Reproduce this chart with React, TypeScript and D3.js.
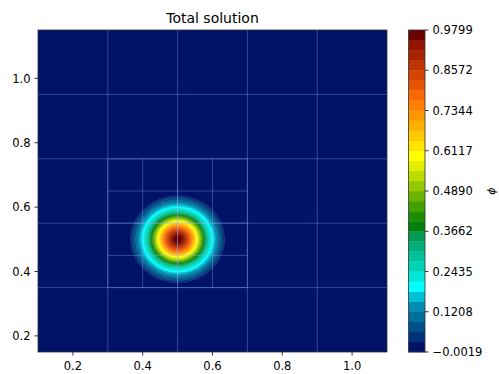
import React from "react";
import * as d3 from "d3";

// Contour band colours, lowest level first
const bandColors = [
  "#001366", "#00327a", "#005088", "#006e9c", "#008cb0", "#00c0d8", "#00ffff", "#00e6d6",
  "#00d4b8", "#00c29a", "#00ae78", "#009a50", "#00800a", "#1c8c00", "#44a000", "#6cb400",
  "#94c800", "#bcdc00", "#e2ee00", "#ffff00", "#ffe400", "#ffc800", "#ffb000", "#ff9800",
  "#ff8000", "#f86800", "#e85400", "#d44400", "#c03400", "#a82400", "#901400", "#6b0000",
];

// Radius (in domain units) at which the field reaches the lower bound of each band 2..32
const levelRadii = [
  0.1345, 0.128, 0.121, 0.1145, 0.1085, 0.103, 0.0978, 0.0926, 0.0886, 0.0848, 0.0812,
  0.0779, 0.0746, 0.0715, 0.0684, 0.0654, 0.0625, 0.0596, 0.0567, 0.0539, 0.051, 0.0481,
  0.0452, 0.0422, 0.0391, 0.0358, 0.0324, 0.0287, 0.0247, 0.02, 0.014,
];
const pulseCenter = [0.5, 0.5];

const phiMin = -0.0019;
const phiMax = 0.9799;
const colorTicks = ["-0.0019", "0.1208", "0.2435", "0.3662", "0.4890", "0.6117", "0.7344", "0.8572", "0.9799"];

const xTicks = [0.2, 0.4, 0.6, 0.8, 1.0];
const yTicks = [0.2, 0.4, 0.6, 0.8, 1.0];

// Mesh cell edges: coarse grid and the refined patch
const coarseX = [0.3, 0.5, 0.7, 0.9];
const coarseY = [0.35, 0.55, 0.75, 0.95];
const fineX = [0.3, 0.4, 0.5, 0.6, 0.7];
const fineY = [0.35, 0.45, 0.55, 0.65, 0.75];
const fineBox = { x0: 0.3, x1: 0.7, y0: 0.35, y1: 0.75 };

const font = "DejaVu Sans, sans-serif";

export default function App() {
  const x = d3.scaleLinear().domain([0.1, 1.1]).range([38, 387]);
  const y = d3.scaleLinear().domain([0.15, 1.15]).range([352, 30]);
  const cb = d3.scaleLinear().domain([phiMin, phiMax]).range([352, 30]);
  const nb = bandColors.length;
  const levels = d3.range(nb + 1).map((i) => phiMin + (i * (phiMax - phiMin)) / nb);

  const cx = x(pulseCenter[0]);
  const cy = y(pulseCenter[1]);
  const [px0, px1] = x.range();
  const [py1, py0] = y.range();

  return (
    <svg width={499} height={374} style={{ position: "absolute", left: 0, top: 0 }} fontFamily={font}>
      <rect width={499} height={374} fill="#ffffff" />
      <defs>
        <clipPath id="plotClip">
          <rect x={px0} y={py0} width={px1 - px0} height={py1 - py0} />
        </clipPath>
      </defs>
      <g clipPath="url(#plotClip)">
        <rect x={px0} y={py0} width={px1 - px0} height={py1 - py0} fill={bandColors[0]} />
        {levelRadii.map((r, i) => (
          <ellipse
            key={i}
            cx={cx}
            cy={cy}
            rx={x(pulseCenter[0] + r) - cx}
            ry={cy - y(pulseCenter[1] + r)}
            fill={bandColors[i + 1]}
            stroke="#ffffff"
            strokeOpacity={0.18}
            strokeWidth={0.6}
          />
        ))}
        <g stroke="#9db8ff" strokeOpacity={0.32} strokeWidth={1}>
          {coarseX.map((v) => (
            <line key={"cx" + v} x1={x(v)} x2={x(v)} y1={py0} y2={py1} />
          ))}
          {coarseY.map((v) => (
            <line key={"cy" + v} x1={px0} x2={px1} y1={y(v)} y2={y(v)} />
          ))}
          {fineX.map((v) => (
            <line key={"fx" + v} x1={x(v)} x2={x(v)} y1={y(fineBox.y1)} y2={y(fineBox.y0)} />
          ))}
          {fineY.map((v) => (
            <line key={"fy" + v} x1={x(fineBox.x0)} x2={x(fineBox.x1)} y1={y(v)} y2={y(v)} />
          ))}
        </g>
      </g>
      <rect x={px0} y={py0} width={px1 - px0} height={py1 - py0} fill="none" stroke="#333" strokeWidth={0.8} />

      {xTicks.map((t) => (
        <g key={"xt" + t}>
          <line x1={x(t)} x2={x(t)} y1={py1} y2={py1 + 3.5} stroke="#000" strokeWidth={0.8} />
          <text x={x(t)} y={370} textAnchor="middle" fontSize={11.5} fill="#000">
            {t.toFixed(1)}
          </text>
        </g>
      ))}
      {yTicks.map((t) => (
        <g key={"yt" + t}>
          <line x1={px0 - 3.5} x2={px0} y1={y(t)} y2={y(t)} stroke="#000" strokeWidth={0.8} />
          <text x={30.5} y={y(t) + 4.2} textAnchor="end" fontSize={11.5} fill="#000">
            {t.toFixed(1)}
          </text>
        </g>
      ))}

      <text x={(px0 + px1) / 2} y={23} textAnchor="middle" fontSize={14} fill="#000">
        Total solution
      </text>

      {/* colour bar */}
      {bandColors.map((c, i) => (
        <rect
          key={"cb" + i}
          x={408.5}
          y={cb(levels[i + 1])}
          width={16.5}
          height={cb(levels[i]) - cb(levels[i + 1]) + 0.3}
          fill={c}
        />
      ))}
      <rect x={408.5} y={30} width={16.5} height={322} fill="none" stroke="#333" strokeWidth={0.8} />
      {colorTicks.map((t) => (
        <g key={"ct" + t}>
          <line x1={425} x2={428.5} y1={cb(+t)} y2={cb(+t)} stroke="#000" strokeWidth={0.8} />
          <text x={432.5} y={cb(+t) + 4.2} fontSize={11.5} fill="#000">
            {t.replace("-", "\u2212")}
          </text>
        </g>
      ))}
      <text transform="translate(495,191) rotate(-90)" textAnchor="middle" fontSize={11} fontStyle="italic" fill="#000">
        ϕ
      </text>
    </svg>
  );
}
